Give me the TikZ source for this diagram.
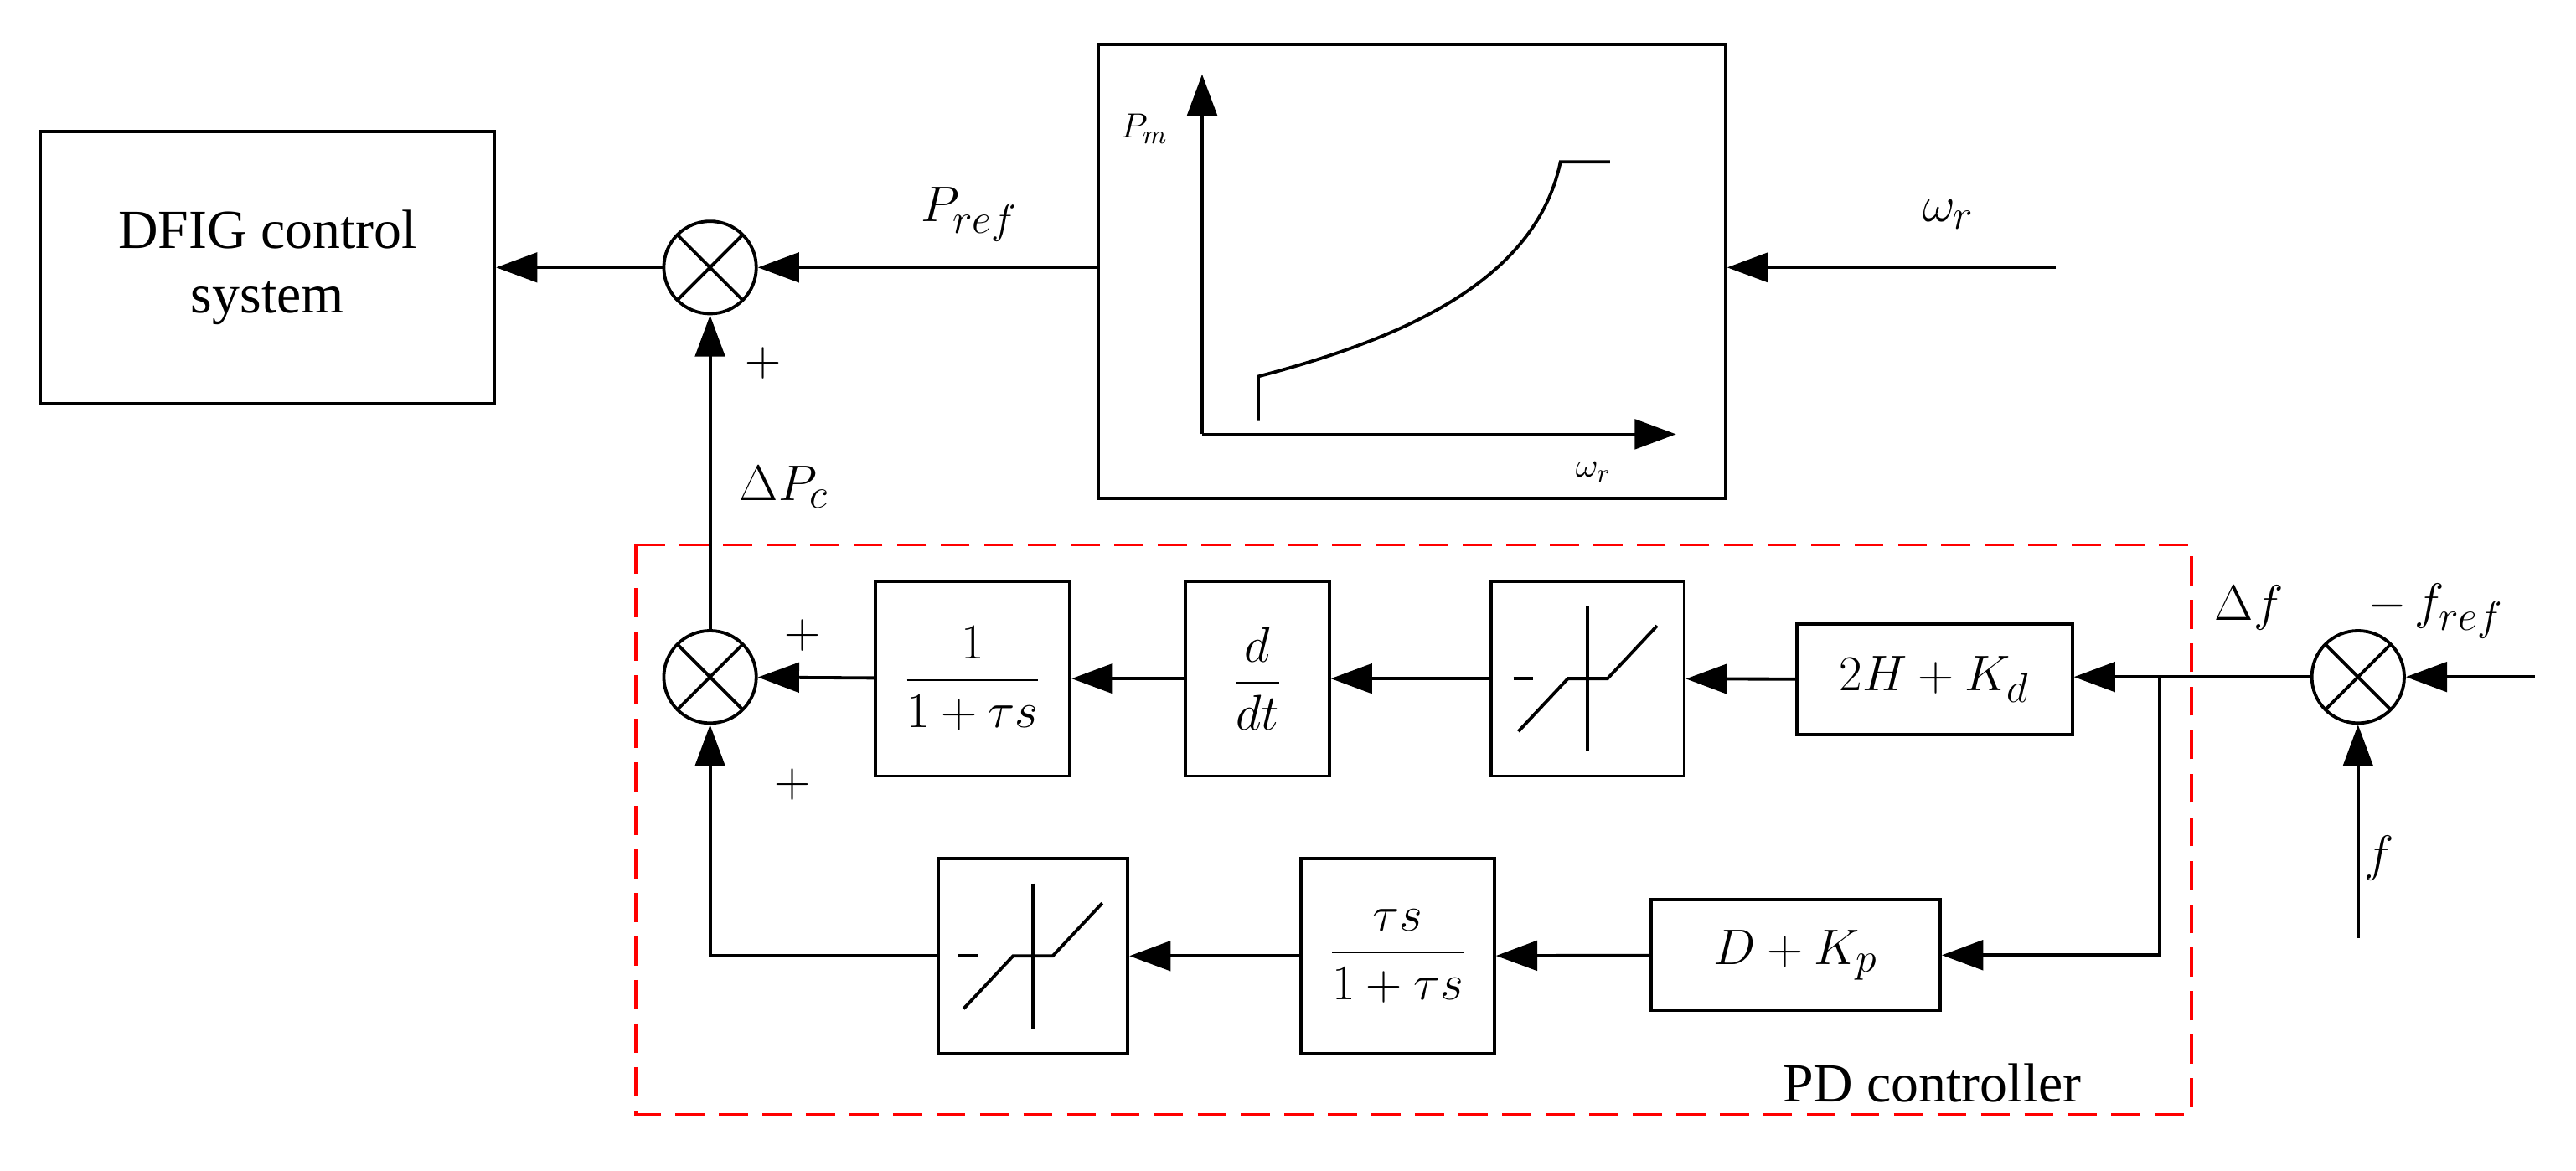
\documentclass[tikz,border=0pt]{standalone}
\usepackage{amsmath}
\usepackage{fontspec}
\setmainfont{Liberation Serif}
\usetikzlibrary{arrows.meta}
\begin{document}
\begin{tikzpicture}[x=0.02cm,y=-0.02cm,line width=1.1pt,
  blk/.style={draw,line width=1.1pt,inner sep=0pt},
  sum/.style={draw,circle,minimum size=1.12cm,inner sep=0pt,path picture={\draw[line width=1.1pt] (path picture bounding box.south west)--(path picture bounding box.north east) (path picture bounding box.north west)--(path picture bounding box.south east);}},
  ar/.style={-{Triangle[length=0.5cm,width=0.36cm]}},
  txt/.style={font=\fontsize{19}{22}\selectfont}]
\useasboundingbox (0,0) rectangle (1560,709);
\fill[white] (0,0) rectangle (1560,709);
% blocks
\node[blk,minimum width=5.5cm,minimum height=3.3cm,txt,align=center] (dfig) at (162,162) {DFIG control\\system};
\node[sum] (s1) at (430,162) {};
\node[blk,minimum width=7.6cm,minimum height=5.5cm] (plot) at (855,164.5) {};
\node[sum] (s2) at (430,410) {};
\node[sum] (s3) at (1428,410) {};
\node[blk,minimum width=2.36cm,minimum height=2.36cm,txt] (b1) at (589,411) {$\dfrac{1}{1+\tau s}$};
\node[blk,minimum width=1.74cm,minimum height=2.36cm,txt] (b2) at (761.5,411) {$\dfrac{d}{dt}$};
\node[blk,minimum width=2.34cm,minimum height=2.36cm] (b3) at (961.5,411) {};
\node[blk,minimum width=3.34cm,minimum height=1.34cm,txt] (b4) at (1171.5,411.5) {$2H+K_d$};
\node[blk,minimum width=3.5cm,minimum height=1.34cm,txt] (b5) at (1087.5,578.5) {$D+K_p$};
\node[blk,minimum width=2.34cm,minimum height=2.36cm,txt] (b6) at (846.5,579) {$\dfrac{\tau s}{1+\tau s}$};
\node[blk,minimum width=2.3cm,minimum height=2.36cm] (b7) at (625.5,579) {};
% dead zones
\foreach \n in {b3,b7}{
 \draw (\n.center) ++(-42,32) -- ++(30,-32) -- ++(24,0) -- ++(30,-32);
 \draw (\n.center) ++(0,-44) -- ++(0,88);
 \draw (\n.center) ++(-45,0) -- ++(12,0);}
% plot content
\coordinate (o) at (728,263);
\coordinate (ya) at (728,45);
\coordinate (xa) at (1015,263);
\draw[ar] (o) -- (ya);
\draw[ar] (o) -- (xa);
\draw (762,255) -- (762,228) .. controls (850,205) and (930,170) .. (945,98) -- (975,98);
\node[font=\fontsize{13}{15}\selectfont] (pm) at (693,78) {$P_m$};
\node[font=\fontsize{13}{15}\selectfont] (wr2) at (965,286) {$\omega_r$};
% connectors
\draw[ar] (s1) -- (dfig);
\draw[ar] (plot.west |- s1) -- (s1);
\coordinate (win) at (1245,162);
\draw[ar] (win) -- (plot.east |- win);
\draw[ar] (s2) -- (s1);
\draw[ar] (b1) -- (s2);
\draw[ar] (b2) -- (b1);
\draw[ar] (b3) -- (b2);
\draw[ar] (b4) -- (b3);
\coordinate (j) at (1308,410);
\draw[ar] (s3) -- (b4.east |- s3);
\draw[ar] (j) |- (b5.east);
\draw[ar] (b5) -- (b6);
\draw[ar] (b6) -- (b7);
\draw[ar] (b7.west) -| (s2.south);
\coordinate (fin) at (1535,410);
\draw[ar] (fin) -- (s3);
\coordinate (fb) at (1428,568);
\draw[ar] (fb) -- (s3);
% labels
\node[txt] (lp) at (587,130) {$P_{ref}$};
\node[txt] (lw) at (1180,130) {$\omega_r$};
\node[txt] (p1) at (462,220) {$+$};
\node[txt] (lpc) at (475,295) {$\Delta P_c$};
\node[txt] (p2) at (486,385) {$+$};
\node[txt] (p3) at (480,475) {$+$};
\node[txt] (ldf) at (1362,368) {$\Delta f$};
\node[txt] (lfr) at (1475,370) {$-\,f_{ref}$};
\node[txt] (lf) at (1441,520) {$f$};
% red dashed box
\draw[red,dashed,dash pattern=on 10pt off 5pt,line width=1.1pt] (385,330) rectangle (1327,675);
\node[txt] (pd) at (1170,656) {PD controller};
\end{tikzpicture}
\end{document}
